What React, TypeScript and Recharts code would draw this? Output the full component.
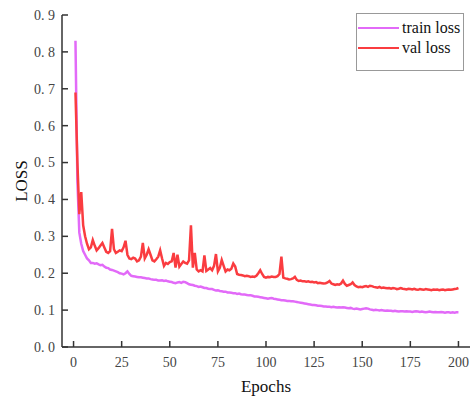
import React from 'react';
import { LineChart, Line, XAxis, YAxis, Legend, Label } from 'recharts';

const epochs: number[] = Array.from({ length: 200 }, (_, i) => i + 1);

const trainLoss: number[] = [
  0.83, 0.45, 0.31, 0.28, 0.26, 0.25, 0.24, 0.235, 0.228, 0.228,
  0.226, 0.227, 0.224, 0.222, 0.223, 0.218, 0.215, 0.214, 0.21, 0.209,
  0.207, 0.205, 0.203, 0.2, 0.199, 0.197, 0.2, 0.205, 0.198, 0.193,
  0.192, 0.191, 0.19, 0.189, 0.189, 0.188, 0.187, 0.186, 0.186, 0.184,
  0.183, 0.182, 0.182, 0.18, 0.18, 0.181, 0.179, 0.18, 0.178, 0.177,
  0.176, 0.174, 0.173, 0.175, 0.176, 0.174, 0.177, 0.176, 0.173, 0.17,
  0.169, 0.168, 0.166, 0.165, 0.163, 0.164, 0.162, 0.16, 0.16, 0.158,
  0.157, 0.157, 0.155, 0.153, 0.154, 0.152, 0.151, 0.15, 0.15, 0.148,
  0.148, 0.147, 0.146, 0.146, 0.144, 0.145, 0.143, 0.142, 0.142, 0.141,
  0.14, 0.14, 0.139, 0.137, 0.137, 0.136, 0.135, 0.134, 0.133, 0.132,
  0.131, 0.132, 0.133, 0.131, 0.13, 0.129, 0.128, 0.127, 0.127, 0.126,
  0.125, 0.125, 0.124, 0.124, 0.123, 0.122, 0.121, 0.12, 0.119, 0.118,
  0.117, 0.116, 0.115, 0.114, 0.114, 0.113, 0.112, 0.112, 0.111, 0.11,
  0.11, 0.109, 0.109, 0.108, 0.109, 0.108, 0.107, 0.108, 0.107, 0.108,
  0.107, 0.106, 0.105, 0.106, 0.104, 0.103, 0.104, 0.103, 0.102, 0.103,
  0.104, 0.105, 0.104, 0.102, 0.101, 0.1, 0.101, 0.1, 0.099, 0.1,
  0.099, 0.098, 0.099, 0.098, 0.098, 0.097, 0.098, 0.097, 0.096, 0.097,
  0.097, 0.096, 0.097, 0.096, 0.096, 0.095, 0.096, 0.097, 0.096, 0.095,
  0.096, 0.095, 0.094, 0.095, 0.096, 0.095, 0.094, 0.095, 0.094, 0.094,
  0.095, 0.094, 0.093, 0.094, 0.094, 0.093, 0.094, 0.093, 0.094, 0.094,
];

const valLoss: number[] = [
  0.69, 0.5, 0.36, 0.42, 0.33, 0.3, 0.28, 0.265, 0.27, 0.29,
  0.275, 0.262, 0.268, 0.275, 0.282, 0.27, 0.258, 0.255, 0.26, 0.32,
  0.265, 0.255, 0.258, 0.262, 0.26, 0.27, 0.288, 0.25, 0.24, 0.238,
  0.242, 0.24, 0.232, 0.235, 0.245, 0.282, 0.24, 0.25, 0.265, 0.25,
  0.235, 0.232, 0.238, 0.245, 0.262, 0.24, 0.22, 0.228, 0.225, 0.23,
  0.232, 0.255, 0.215, 0.25, 0.218, 0.225, 0.232, 0.228, 0.226, 0.235,
  0.33, 0.215, 0.255, 0.21, 0.205, 0.208, 0.205, 0.248, 0.206, 0.21,
  0.214, 0.208, 0.22, 0.252, 0.205, 0.215, 0.236, 0.22, 0.205, 0.21,
  0.208, 0.212, 0.226, 0.218, 0.198, 0.196, 0.195, 0.194, 0.192, 0.193,
  0.192, 0.19, 0.191, 0.19, 0.193, 0.2, 0.208, 0.198, 0.19, 0.188,
  0.19, 0.189, 0.191, 0.19, 0.19, 0.192, 0.198, 0.245, 0.188, 0.186,
  0.185, 0.183, 0.184, 0.186, 0.19, 0.182, 0.179, 0.18, 0.178, 0.178,
  0.177, 0.178, 0.176, 0.177, 0.175, 0.176, 0.173, 0.174, 0.173, 0.172,
  0.173, 0.175, 0.179, 0.172, 0.17, 0.168, 0.17, 0.169, 0.172, 0.18,
  0.171, 0.166, 0.168, 0.17, 0.175, 0.168, 0.164, 0.162, 0.163, 0.162,
  0.164, 0.165, 0.163, 0.166, 0.165, 0.163, 0.162, 0.161, 0.163, 0.16,
  0.161, 0.16, 0.159, 0.16, 0.158, 0.16, 0.159, 0.157, 0.158, 0.16,
  0.158, 0.157, 0.156, 0.158, 0.157, 0.156, 0.158, 0.156, 0.155, 0.157,
  0.156, 0.155, 0.157, 0.156, 0.155, 0.154, 0.156, 0.155, 0.156, 0.154,
  0.155, 0.156, 0.154, 0.155, 0.156, 0.155, 0.156, 0.157, 0.158, 0.16,
];

const xTicks: number[] = [0, 25, 50, 75, 100, 125, 150, 175, 200];
const yTicks: number[] = [0, 0.1, 0.2, 0.3, 0.4, 0.5, 0.6, 0.7, 0.8, 0.9];
const seriesNames: string[] = ['train loss', 'val loss'];
const seriesColors: string[] = ['#E26AF8', '#FA3C40'];

const data = epochs.map((e, i) => ({ epoch: e, train: trainLoss[i], val: valLoss[i] }));

const AXIS = '#333';
const FONT = '"Liberation Serif", "Times New Roman", serif';
const TM = 7;

const fmtY = (v: number) => v.toFixed(1).replace('.', '. ');

const YTick = (props: any) => {
  const { x, y, payload } = props;
  return (
    <g>
      <line x1={x + TM} x2={x + TM + 6} y1={y} y2={y} stroke={AXIS} strokeWidth={1.5} />
      <text x={x} y={y} dy="0.35em" textAnchor="end" fontFamily={FONT} fontSize={14} fill="#444">
        {fmtY(payload.value)}
      </text>
    </g>
  );
};

const XTick = (props: any) => {
  const { x, y, payload } = props;
  return (
    <g>
      <line x1={x} x2={x} y1={y - TM} y2={y - TM - 6} stroke={AXIS} strokeWidth={1.5} />
      <text x={x} y={y} dy="0.9em" textAnchor="middle" fontFamily={FONT} fontSize={14} fill="#444">
        {payload.value}
      </text>
    </g>
  );
};

const LegendBox = () => (
  <div
    style={{
      border: '1px solid #999',
      background: '#fff',
      padding: '4px 3px 12px 1px',
      fontFamily: FONT,
      fontSize: 16,
      color: '#111',
      lineHeight: '20px',
    }}
  >
    {seriesNames.map((n, i) => (
      <div key={n} style={{ display: 'flex', alignItems: 'center', whiteSpace: 'nowrap' }}>
        <span style={{ display: 'inline-block', width: 41, height: 2.5, background: seriesColors[i], marginRight: 3 }} />
        <span>{n}</span>
      </div>
    ))}
  </div>
);

export default function App() {
  return (
    <div style={{ position: 'absolute', left: 0, top: 0, width: 472, height: 400, background: '#fff' }}>
      <LineChart width={472} height={400} data={data} margin={{ top: 15, right: 2, bottom: 0, left: 0 }}>
        <XAxis
          dataKey="epoch"
          type="number"
          domain={[-6, 206]}
          ticks={xTicks}
          height={53}
          tickSize={0}
          tickMargin={TM}
          tick={<XTick />}
          axisLine={{ stroke: AXIS, strokeWidth: 1.5 }}
          allowDataOverflow
        >
          <Label
            content={(p: any) => {
              const vb = p.viewBox;
              return (
                <text x={vb.x + vb.width / 2} y={392} textAnchor="middle" fontFamily={FONT} fontSize={17} fill="#111">
                  Epochs
                </text>
              );
            }}
          />
        </XAxis>
        <YAxis
          type="number"
          domain={[0, 0.9]}
          ticks={yTicks}
          width={62}
          tickSize={0}
          tickMargin={TM}
          tick={<YTick />}
          axisLine={{ stroke: AXIS, strokeWidth: 1.5 }}
          allowDataOverflow
        >
          <Label
            content={(p: any) => {
              const vb = p.viewBox;
              const cy = vb.y + vb.height / 2;
              return (
                <text x={27} y={cy} transform={`rotate(-90, 27, ${cy})`} textAnchor="middle" fontFamily={FONT} fontSize={17} fill="#111">
                  LOSS
                </text>
              );
            }}
          />
        </YAxis>
        <Legend
          layout="vertical"
          align="center"
          verticalAlign="middle"
          content={() => <LegendBox />}
          wrapperStyle={{ position: 'absolute', left: 356, top: 13, width: 'auto', height: 'auto' }}
        />
        <Line type="linear" dataKey="train" name={seriesNames[0]} stroke={seriesColors[0]} strokeWidth={2.5} dot={false} isAnimationActive={false} />
        <Line type="linear" dataKey="val" name={seriesNames[1]} stroke={seriesColors[1]} strokeWidth={2.5} dot={false} isAnimationActive={false} />
      </LineChart>
    </div>
  );
}
